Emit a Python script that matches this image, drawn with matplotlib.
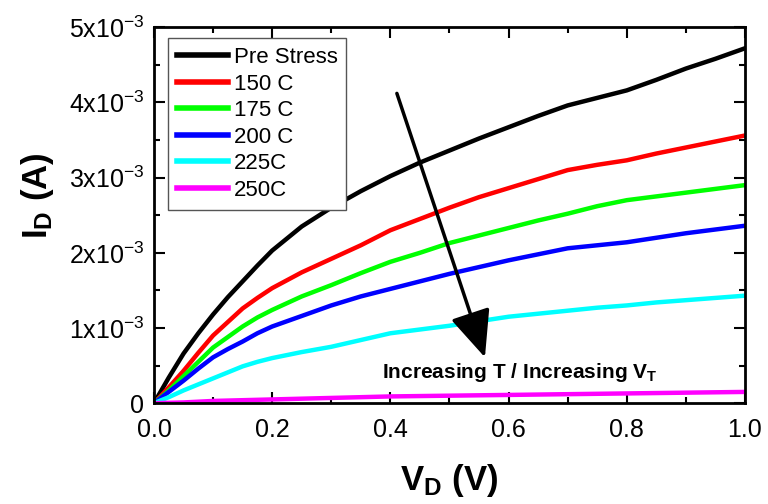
import matplotlib
matplotlib.use("Agg")
import matplotlib.pyplot as plt

plt.rcParams['font.family'] = ['Liberation Sans', 'DejaVu Sans']
plt.rcParams['mathtext.default'] = 'regular'

# drain voltage (V)
vd = [0.0, 0.025, 0.05, 0.075, 0.1, 0.125, 0.15, 0.175, 0.2,
      0.25, 0.3, 0.35, 0.4, 0.45, 0.5, 0.55, 0.6, 0.65, 0.7,
      0.75, 0.8, 0.85, 0.9, 0.95, 1.0]

# drain current, in mA
pre_stress = [0, 0.34, 0.66, 0.93, 1.18, 1.41, 1.62, 1.83, 2.03,
              2.35, 2.6, 2.82, 3.02, 3.2, 3.36, 3.52, 3.67, 3.82, 3.96,
              4.06, 4.16, 4.3, 4.45, 4.58, 4.72]
t150 = [0, 0.21, 0.43, 0.67, 0.9, 1.08, 1.26, 1.4, 1.53,
        1.74, 1.92, 2.1, 2.3, 2.45, 2.6, 2.74, 2.86, 2.98, 3.1,
        3.17, 3.23, 3.32, 3.4, 3.48, 3.56]
t175 = [0, 0.17, 0.36, 0.55, 0.74, 0.88, 1.02, 1.14, 1.24,
        1.42, 1.57, 1.73, 1.88, 2.0, 2.13, 2.23, 2.33, 2.43, 2.52,
        2.62, 2.7, 2.75, 2.8, 2.85, 2.9]
t200 = [0, 0.15, 0.3, 0.46, 0.61, 0.72, 0.82, 0.93, 1.02,
        1.16, 1.3, 1.42, 1.52, 1.62, 1.72, 1.81, 1.9, 1.98, 2.06,
        2.1, 2.14, 2.2, 2.26, 2.31, 2.36]
t225 = [0, 0.08, 0.17, 0.25, 0.33, 0.41, 0.49, 0.55, 0.6,
        0.68, 0.75, 0.84, 0.93, 0.98, 1.03, 1.09, 1.15, 1.19, 1.23,
        1.27, 1.3, 1.34, 1.37, 1.4, 1.43]
t250 = [0, 0.005, 0.01, 0.02, 0.03, 0.035, 0.04, 0.045, 0.05,
        0.06, 0.07, 0.08, 0.09, 0.095, 0.1, 0.105, 0.11, 0.115, 0.12,
        0.125, 0.13, 0.135, 0.14, 0.145, 0.15]

series = [pre_stress, t150, t175, t200, t225, t250]
labels = ["Pre Stress", "150 C", "175 C", "200 C", "225C", "250C"]
colors = ["#000000", "#ff0000", "#00ff00", "#0000ff", "#00ffff", "#ff00ff"]

yticks = [0, 1e-3, 2e-3, 3e-3, 4e-3, 5e-3]
yticklabels = ["0", "1x10$^{-3}$", "2x10$^{-3}$", "3x10$^{-3}$",
               "4x10$^{-3}$", "5x10$^{-3}$"]
xticks = [0.0, 0.2, 0.4, 0.6, 0.8, 1.0]


def main():
    fig = plt.figure(figsize=(7.68, 5.04), dpi=100)
    ax = fig.add_axes([0.2005, 0.2, 0.7695, 0.746])

    for ys, lab, c in zip(series, labels, colors):
        ax.plot(vd, [y * 1e-3 for y in ys], color=c, lw=3.2, label=lab,
                solid_joinstyle='round')

    ax.set_xlim(0, 1.0)
    ax.set_ylim(0, 5e-3)
    ax.set_xticks(xticks)
    ax.set_xticklabels([f"{v:.1f}" for v in xticks])
    ax.set_xticks([0.1, 0.3, 0.5, 0.7, 0.9], minor=True)
    ax.set_yticks(yticks)
    ax.set_yticklabels(yticklabels)
    ax.set_yticks([0.5e-3, 1.5e-3, 2.5e-3, 3.5e-3, 4.5e-3], minor=True)

    ax.tick_params(which='both', direction='in', top=True, right=True,
                   width=1.5, labelsize=18)
    ax.tick_params(which='major', length=8, pad=7)
    ax.tick_params(axis='x', which='major', pad=11)
    ax.tick_params(which='minor', length=4.5)
    for sp in ax.spines.values():
        sp.set_linewidth(2)

    ax.set_xlabel("V$_D$ (V)", fontsize=25, fontweight='bold', labelpad=14)
    ax.set_ylabel("I$_D$ (A)", fontsize=25, fontweight='bold')
    # label sits a bit above the axis middle in the original
    ax.yaxis.set_label_coords(-0.165, 0.553)

    leg = ax.legend(loc='upper left', bbox_to_anchor=(0.0237, 0.971),
                    borderaxespad=0, fontsize=16, fancybox=False,
                    edgecolor='#555555', framealpha=1, handlelength=2.3,
                    handletextpad=0.25, labelspacing=0.25, borderpad=0.4)
    leg.get_frame().set_linewidth(1)
    for ln in leg.get_lines():
        ln.set_linewidth(4)

    ax.annotate("", xy=(0.56, 0.61e-3), xytext=(0.411, 4.12e-3),
                arrowprops=dict(arrowstyle='-|>,head_length=1.45,head_width=0.63',
                                mutation_scale=20, lw=2.5, color='k',
                                shrinkA=0, shrinkB=0))
    ax.text(0.386, 0.33e-3, "Increasing T / Increasing V$_T$", fontsize=15,
            fontweight='bold', va='baseline', ha='left')

    fig.savefig("out.png", dpi=100)


if __name__ == "__main__":
    main()
